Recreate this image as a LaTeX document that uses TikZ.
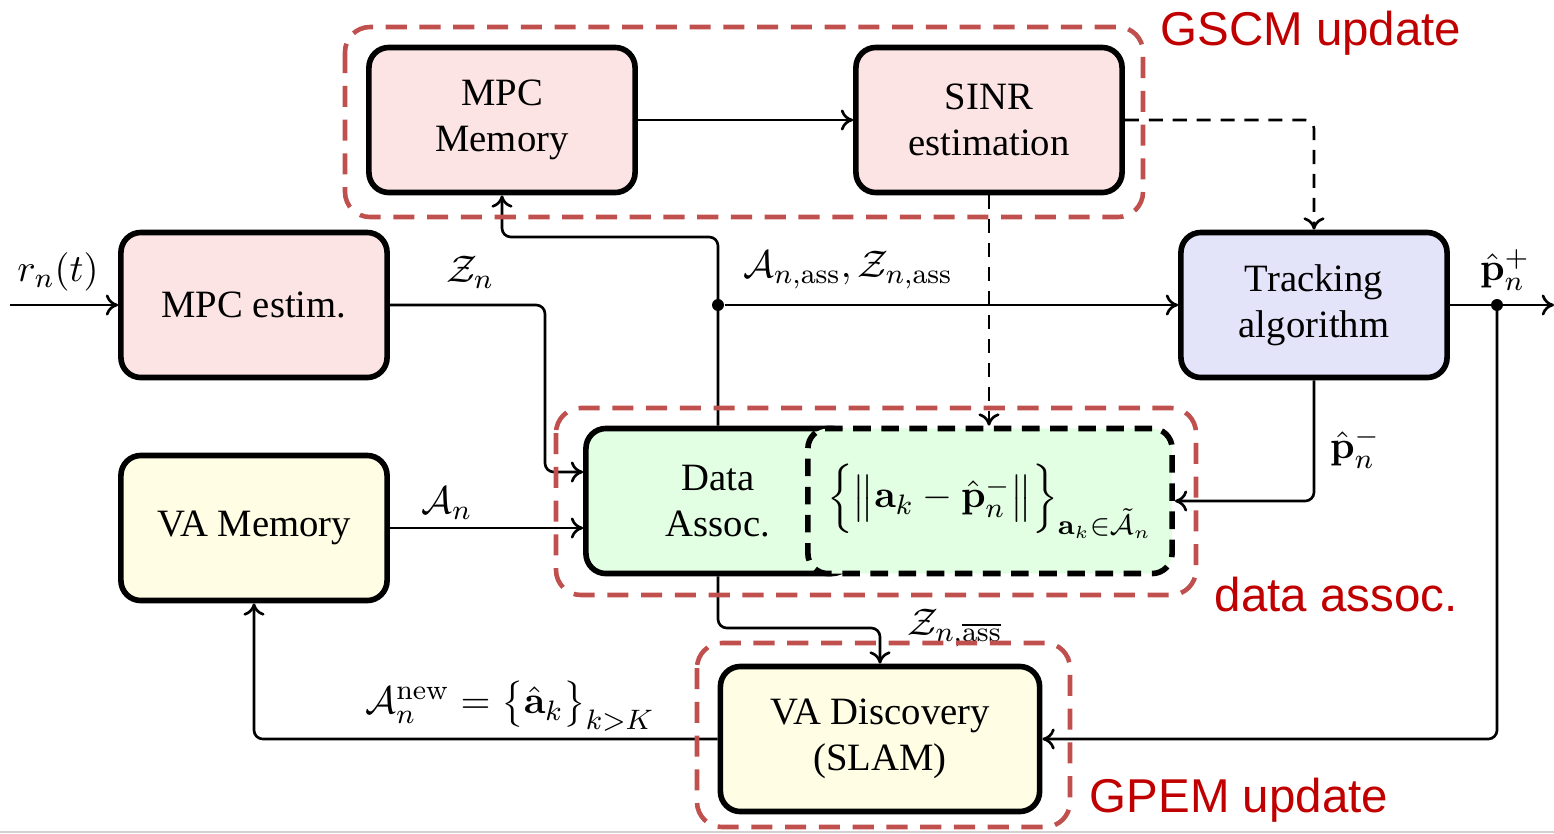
\documentclass[tikz,border=0pt]{standalone}
\usepackage[no-math]{fontspec}
\setmainfont{Liberation Serif}
\newfontfamily\labelsans{Liberation Sans}
\usepackage{amsmath,amssymb}
\usetikzlibrary{arrows.meta,positioning,calc}
\definecolor{pinkfill}{HTML}{FDE4E4}
\definecolor{bluefill}{HTML}{E3E3FA}
\definecolor{yellowfill}{HTML}{FFFDE3}
\definecolor{greenfill}{HTML}{E3FFE3}
\definecolor{grpred}{HTML}{C0504D}
\definecolor{txtred}{HTML}{C00000}
\tikzset{
  blk/.style={draw=black, line width=1.6pt, rounded corners=0.2cm,
    minimum width=2.66cm, minimum height=1.45cm, align=center,
    font=\fontsize{11}{13}\selectfont, inner sep=0pt},
  conn/.style={draw=black, line width=0.75pt, rounded corners=2.5pt},
  dashconn/.style={dash pattern=on 4pt off 2.8pt},
  arr/.style={-{To[length=3.5pt,width=6pt]}},
  grp/.style={draw=grpred, line width=1.3pt, dash pattern=on 6pt off 3.6pt, rounded corners=0.25cm},
  grplabel/.style={text=txtred, font=\labelsans\fontsize{13.5}{15}\selectfont, inner sep=0pt},
  lbl/.style={font=\fontsize{11}{13}\selectfont, inner sep=0pt},
  dot/.style={circle, fill=black, inner sep=0pt, minimum size=3.4pt},
}
\begin{document}
\begin{tikzpicture}[x=0.01cm,y=-0.01cm]
\useasboundingbox (0,0) rectangle (1554,833);
\draw[gray!35, line width=0.6pt] (0,832) -- (1554,832);

% blocks
\node[blk, fill=pinkfill] (mpce) at (254,305) {MPC estim.};
\node[blk, fill=yellowfill] (vam) at (254,528) {VA Memory};
\node[blk, fill=pinkfill] (mpcm) at (502,120) {MPC\\Memory};
\node[blk, fill=pinkfill] (sinr) at (989,120) {SINR\\estimation};
\node[blk, fill=bluefill] (trk) at (1314,305) {Tracking\\algorithm};
\node[blk, fill=greenfill, minimum width=2.66cm] (da) at (719,501) {};
\node[lbl, align=center] (datxt) at (718,501) {Data\\Assoc.};
\node[blk, fill=greenfill, dash pattern=on 5pt off 3pt, minimum width=3.64cm] (dab) at (990,501)
  {$\Big\{\big\|\mathbf{a}_k-\hat{\mathbf{p}}_n^-\big\|\Big\}_{\mathbf{a}_k\in\tilde{\mathcal{A}}_n}$};
\node[blk, fill=yellowfill, minimum width=3.19cm] (vad) at (880,739) {VA Discovery\\(SLAM)};

% junctions and free ends
\node[dot] (j1) at (718,305) {};
\node[dot] (j2) at (1497,305) {};
\coordinate (in) at (10,305);
\coordinate (out) at (1554,305);

% connectors
\draw[conn,arr] (in) -- (mpce.west);
\draw[conn,arr] (mpce.east) -- (545,305) -- (545,472) -- (da.west |- 0,472);
\draw[conn,arr] (vam.east) -- (vam.east -| da.west);
\draw[conn,arr] (da.north -| j1) -- (j1.center) -- (718,237) -- (502,237) -- (mpcm.south);
\draw[conn,arr] (j1) -- (trk.west);
\draw[conn,arr] (mpcm.east) -- (sinr.west);
\draw[conn,arr,dashconn] (sinr.east) -| (trk.north);
\draw[conn,arr,dashconn] (sinr.south) -- (sinr.south |- dab.north);
\draw[conn,arr] (trk.south) |- (dab.east);
\draw[conn,arr] (trk.east) -- (out);
\draw[conn,arr] (j2.center) |- (vad.east);
\draw[conn,arr] (da.south -| datxt) -- (718,628) -- (880,628) -- (vad.north);
\draw[conn,arr] (vad.west) -| (vam.south);

% connector labels
\node[lbl] (lr) at (58,272) {$r_n(t)$};
\node[lbl] (lz) at (470,272) {$\mathcal{Z}_n$};
\node[lbl] (la) at (447,503) {$\mathcal{A}_n$};
\node[lbl] (lass) at (848,270) {$\mathcal{A}_{n,\mathrm{ass}},\mathcal{Z}_{n,\mathrm{ass}}$};
\node[lbl] (lpm) at (1355,448) {$\hat{\mathbf{p}}_n^-$};
\node[lbl] (lpp) at (1505,270) {$\hat{\mathbf{p}}_n^+$};
\node[lbl] (lzn) at (955,628) {$\mathcal{Z}_{n,\overline{\mathrm{ass}}}$};
\node[lbl] (lnew) at (510,706) {$\mathcal{A}_n^{\mathrm{new}}=\big\{\hat{\mathbf{a}}_k\big\}_{k>K}$};

% groups
\draw[grp] (345,27) rectangle (1143,217);
\draw[grp] (556,408) rectangle (1196,595);
\draw[grp] (697,643) rectangle (1070,827);
\node[grplabel] (g1) at (1311,33) {GSCM update};
\node[grplabel] (g2) at (1336,595) {data assoc.};
\node[grplabel] (g3) at (1239,800) {GPEM update};
\end{tikzpicture}
\end{document}
